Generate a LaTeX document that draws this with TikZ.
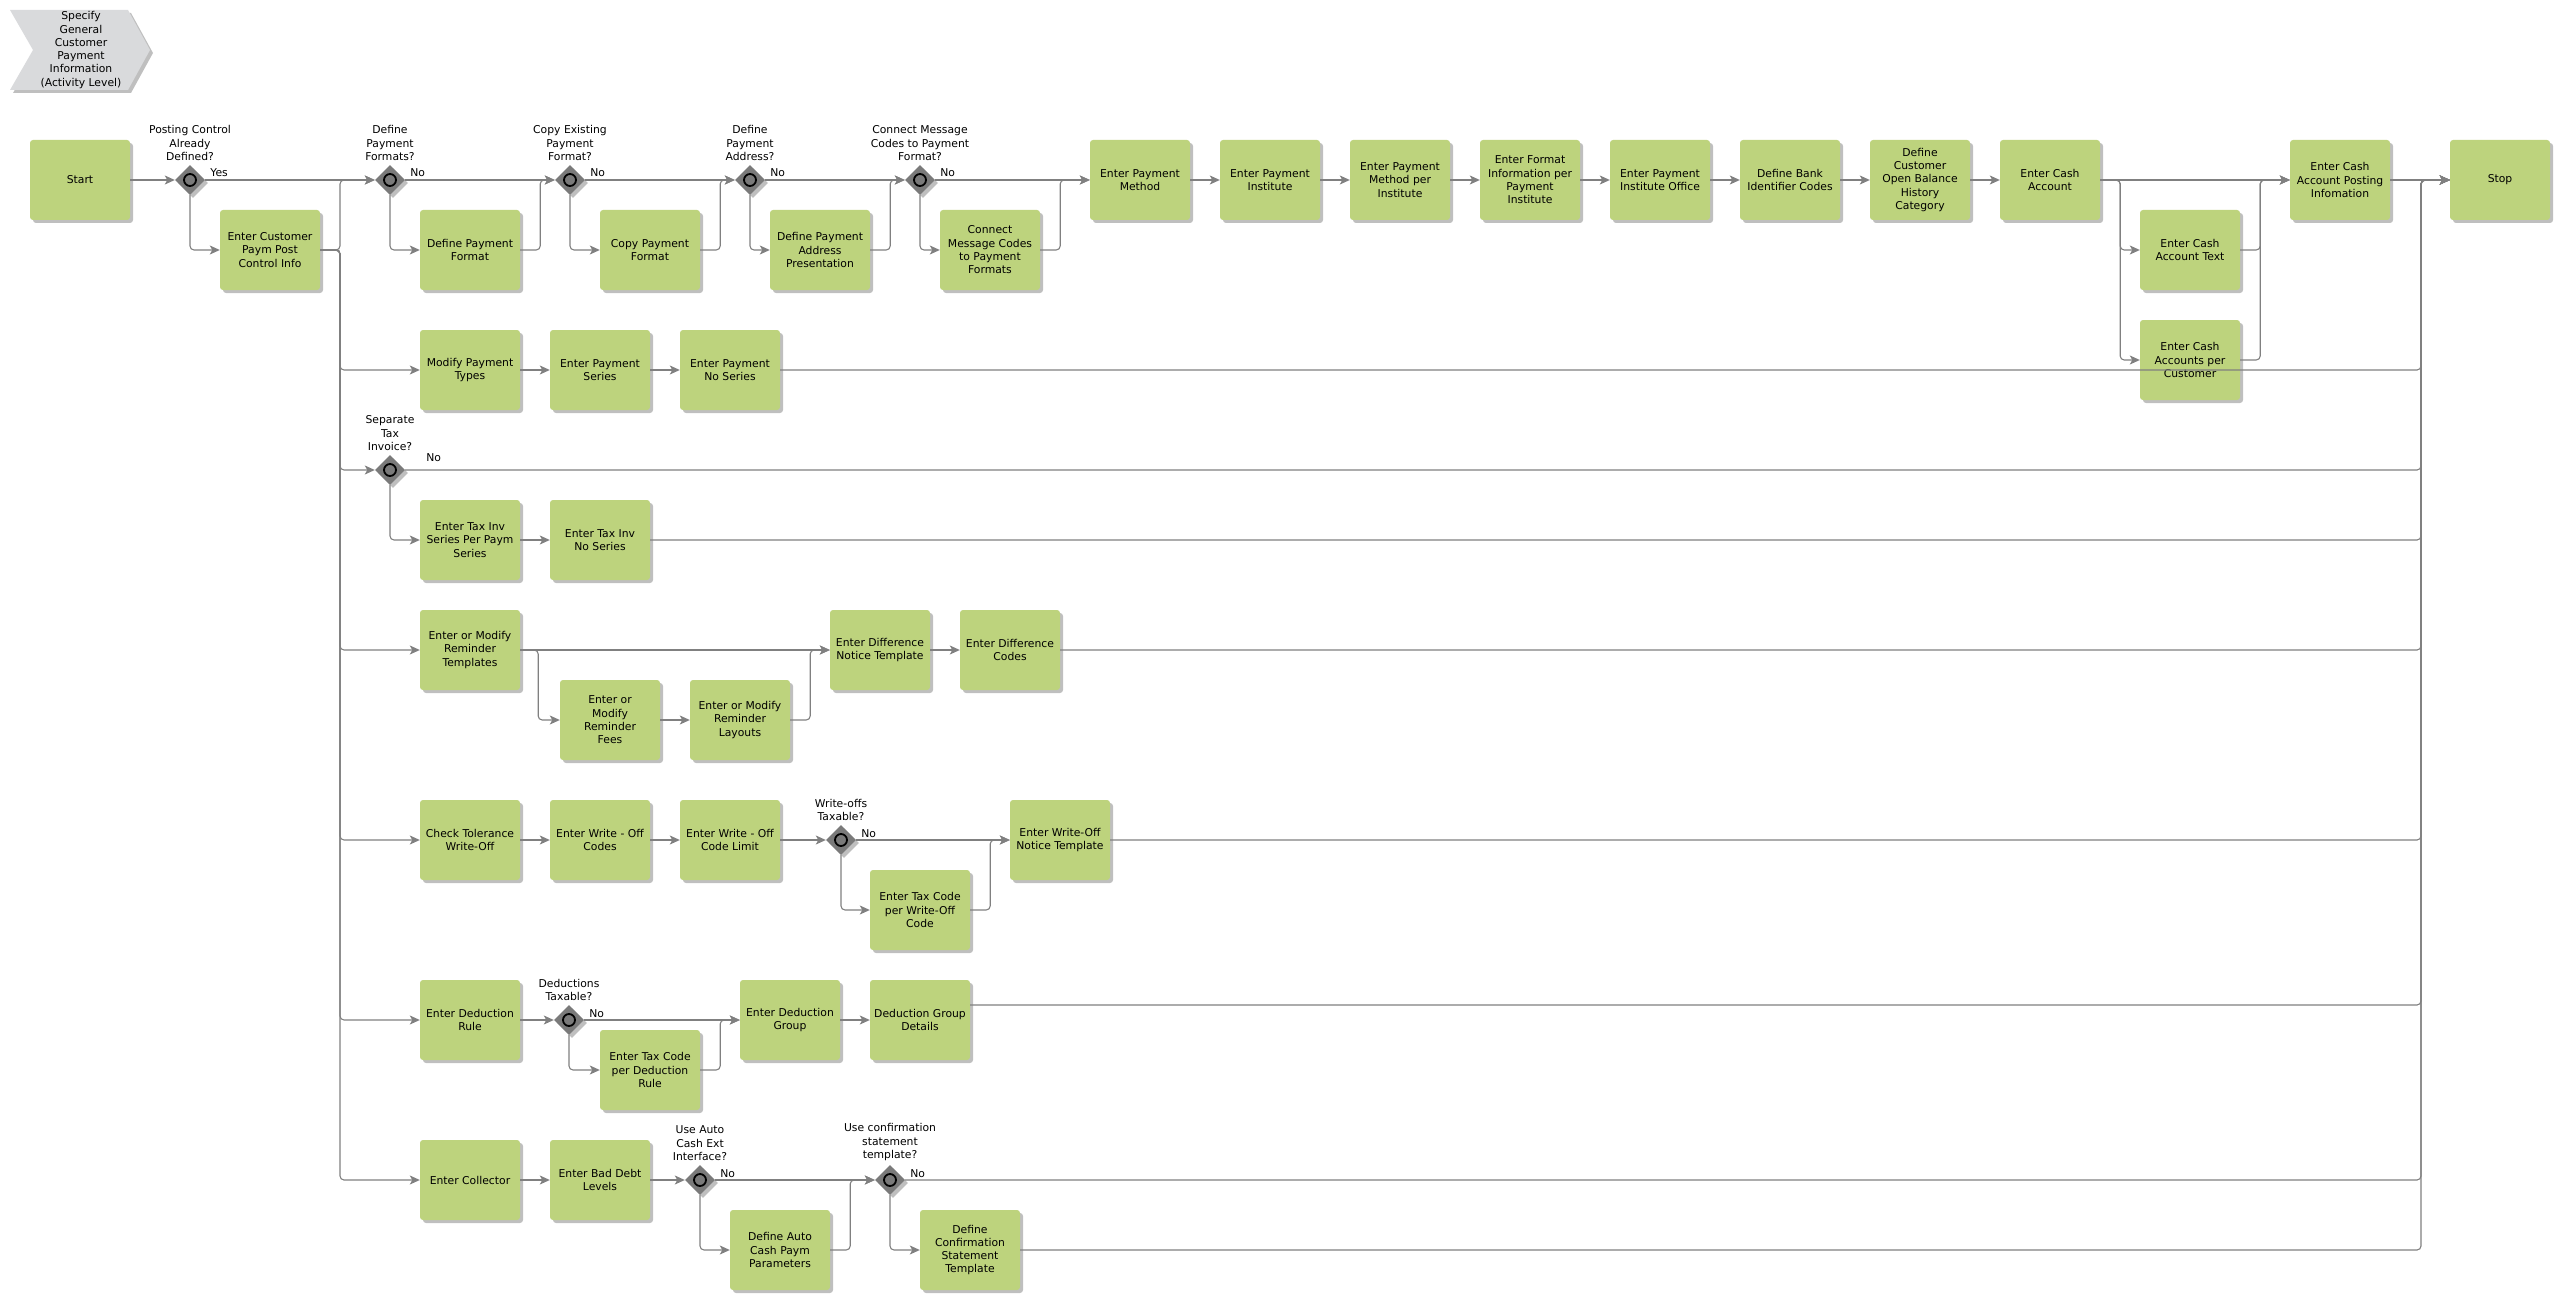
\documentclass[tikz,border=0pt]{standalone}
\usepackage{fontspec}
\setmainfont{DejaVu Sans}
\usetikzlibrary{arrows.meta,positioning,shapes.geometric,shadows}
\definecolor{taskgreen}{RGB}{189,211,125}
\definecolor{flowgray}{RGB}{128,128,128}
\definecolor{gategray}{RGB}{122,122,122}
\definecolor{headgray}{RGB}{217,218,220}
\tikzset{
  softshadow/.style={drop shadow={shadow xshift=3pt, shadow yshift=-3pt, fill=black, opacity=0.25}},
  task/.style={fill=taskgreen, rounded corners=3pt, minimum width=100pt, minimum height=80pt,
    inner sep=1pt, align=center, softshadow},
  gate/.style={diamond, fill=gategray, minimum width=30pt, minimum height=30pt, inner sep=0pt, softshadow,
    path picture={\draw[black, line width=1.8pt] (path picture bounding box.center) circle (6pt);}},
  question/.style={align=center, inner sep=1pt},
  answer/.style={anchor=base west, inner sep=0pt, xshift=5pt, yshift=3pt},
  flowline/.style={flowgray, line width=1.1pt, rounded corners=4pt},
  flowarr/.style={flowline, -{Stealth[length=10pt, width=9pt, inset=2.5pt]}}
}

\begin{document}
\begin{tikzpicture}[x=1pt, y=-1pt, font=\fontsize{10.8}{13.3}\selectfont]
  \useasboundingbox (0,0) rectangle (2560,1300);

  \fill[headgray, softshadow] (10,10) -- (128,10) -- (150,50) -- (128,90) -- (10,90) -- (33,50) -- cycle;
  \node[align=center, inner sep=0pt] (title) at (81,50) {Specify\\General\\Customer\\Payment\\Information\\(Activity Level)};

  \coordinate (busL) at (340,180);
  \coordinate (busR) at (2421,180);

  % main row
  \node[task] (start) at (80,180) {Start};
  \node[gate] (g1) at (190,180) {};
  \node[task] (ecpost) at (270,250) {Enter Customer\\Paym Post\\Control Info};
  \node[gate] (g2) at (390,180) {};
  \node[task] (dpf) at (470,250) {Define Payment\\Format};
  \node[gate] (g3) at (570,180) {};
  \node[task] (cpf) at (650,250) {Copy Payment\\Format};
  \node[gate] (g4) at (750,180) {};
  \node[task] (dpap) at (820,250) {Define Payment\\Address\\Presentation};
  \node[gate] (g5) at (920,180) {};
  \node[task] (cmc) at (990,250) {Connect\\Message Codes\\to Payment\\Formats};
  \node[task] (epm) at (1140,180) {Enter Payment\\Method};
  \node[task] (epi) at (1270,180) {Enter Payment\\Institute};
  \node[task] (epmi) at (1400,180) {Enter Payment\\Method per\\Institute};
  \node[task] (efi) at (1530,180) {Enter Format\\Information per\\Payment\\Institute};
  \node[task] (epio) at (1660,180) {Enter Payment\\Institute Office};
  \node[task] (dbic) at (1790,180) {Define Bank\\Identifier Codes};
  \node[task] (dcob) at (1920,180) {Define\\Customer\\Open Balance\\History\\Category};
  \node[task] (eca) at (2050,180) {Enter Cash\\Account};
  \node[task] (ecat) at (2190,250) {Enter Cash\\Account Text};
  \node[task] (ecapc) at (2190,360) {Enter Cash\\Accounts per\\Customer};
  \node[task] (ecap) at (2340,180) {Enter Cash\\Account Posting\\Infomation};
  \node[task] (stop) at (2500,180) {Stop};

  % payment types
  \node[task] (mpt) at (470,370) {Modify Payment\\Types};
  \node[task] (eps) at (600,370) {Enter Payment\\Series};
  \node[task] (epns) at (730,370) {Enter Payment\\No Series};

  % tax invoice
  \node[gate] (g6) at (390,470) {};
  \node[task] (etis) at (470,540) {Enter Tax Inv\\Series Per Paym\\Series};
  \node[task] (etin) at (600,540) {Enter Tax Inv\\No Series};

  % reminders
  \node[task] (emrt) at (470,650) {Enter or Modify\\Reminder\\Templates};
  \node[task] (emrf) at (610,720) {Enter or\\Modify\\Reminder\\Fees};
  \node[task] (emrl) at (740,720) {Enter or Modify\\Reminder\\Layouts};
  \node[task] (edn) at (880,650) {Enter Difference\\Notice Template};
  \node[task] (edc) at (1010,650) {Enter Difference\\Codes};

  % write-offs
  \node[task] (ctw) at (470,840) {Check Tolerance\\Write-Off};
  \node[task] (ewc) at (600,840) {Enter Write - Off\\Codes};
  \node[task] (ewl) at (730,840) {Enter Write - Off\\Code Limit};
  \node[gate] (g7) at (841,840) {};
  \node[task] (etw) at (920,910) {Enter Tax Code\\per Write-Off\\Code};
  \node[task] (ewn) at (1060,840) {Enter Write-Off\\Notice Template};

  % deductions
  \node[task] (edr) at (470,1020) {Enter Deduction\\Rule};
  \node[gate] (g8) at (569,1020) {};
  \node[task] (etd) at (650,1070) {Enter Tax Code\\per Deduction\\Rule};
  \node[task] (edg) at (790,1020) {Enter Deduction\\Group};
  \node[task] (dgd) at (920,1020) {Deduction Group\\Details};

  % collection
  \node[task] (ecol) at (470,1180) {Enter Collector};
  \node[task] (ebd) at (600,1180) {Enter Bad Debt\\Levels};
  \node[gate] (g9) at (700,1180) {};
  \node[task] (dac) at (780,1250) {Define Auto\\Cash Paym\\Parameters};
  \node[gate] (g10) at (890,1180) {};
  \node[task] (dct) at (970,1250) {Define\\Confirmation\\Statement\\Template};

  \node[question, above=3pt of g1] (q1) {Posting Control\\Already\\Defined?};
  \node[question, above=3pt of g2] (q2) {Define\\Payment\\Formats?};
  \node[question, above=3pt of g3] (q3) {Copy Existing\\Payment\\Format?};
  \node[question, above=3pt of g4] (q4) {Define\\Payment\\Address?};
  \node[question, above=3pt of g5] (q5) {Connect Message\\Codes to Payment\\Format?};
  \node[question, above=3pt of g6] (q6) {Separate\\Tax\\Invoice?};
  \node[question, above=3pt of g7] (q7) {Write-offs\\Taxable?};
  \node[question, above=3pt of g8] (q8) {Deductions\\Taxable?};
  \node[question, above=3pt of g9] (q9) {Use Auto\\Cash Ext\\Interface?};
  \node[question, above=3pt of g10] (q10) {Use confirmation\\statement\\template?};

  \node[answer] (a1) at (g1.east) {Yes};
  \foreach \g in {2,3,4,5,7,8,9,10}
    \node[answer] (a\g) at (g\g.east) {No};
  \node[answer, xshift=16pt, yshift=6pt] (a6) at (g6.east) {No};

  \foreach \a/\b in {start/g1, g1/g2, g2/g3, g3/g4, g4/g5, g5/epm, epm/epi, epi/epmi, epmi/efi,
      efi/epio, epio/dbic, dbic/dcob, dcob/eca, eca/ecap, ecap/stop, mpt/eps, eps/epns, etis/etin,
      emrt/edn, emrf/emrl, edn/edc, ctw/ewc, ewc/ewl, ewl/g7, g7/ewn, edr/g8, g8/edg, edg/dgd,
      ecol/ebd, ebd/g9, g9/g10}
    \draw[flowarr] (\a) -- (\b);

  \foreach \a/\b in {g1/ecpost, g2/dpf, g3/cpf, g4/dpap, g5/cmc, g6/etis, g7/etw, g8/etd, g9/dac, g10/dct}
    \draw[flowarr] (\a) |- (\b);

  \foreach \a/\b in {dpf/g3, cpf/g4, dpap/g5, cmc/epm, emrl/edn, etw/ewn, etd/edg, dac/g10, ecat/ecap, ecapc/ecap}
    \draw[flowarr] (\a.east) -- ++(20,0) |- (\b);

  \draw[flowarr] (emrt.east) -- ++(18,0) |- (emrf);
  \draw[flowarr] (eca.east) -- ++(20,0) |- (ecat);
  \draw[flowarr] (eca.east) -- ++(20,0) |- (ecapc);

  \draw[flowarr] (ecpost.east) -| (busL |- g2) -- (g2);
  \foreach \b in {mpt, g6, emrt, ctw, edr, ecol}
    \draw[flowarr] (ecpost.east) -| (busL |- \b) -- (\b);

  \foreach \a in {epns.east, g6.east, etin.east, edc.east, ewn.east, g10.east, dct.east}
    \draw[flowarr] (\a) -| (busR) -- (stop);
  \draw[flowarr] ([yshift=15pt]dgd.east) -| (busR) -- (stop);
\end{tikzpicture}
\end{document}
